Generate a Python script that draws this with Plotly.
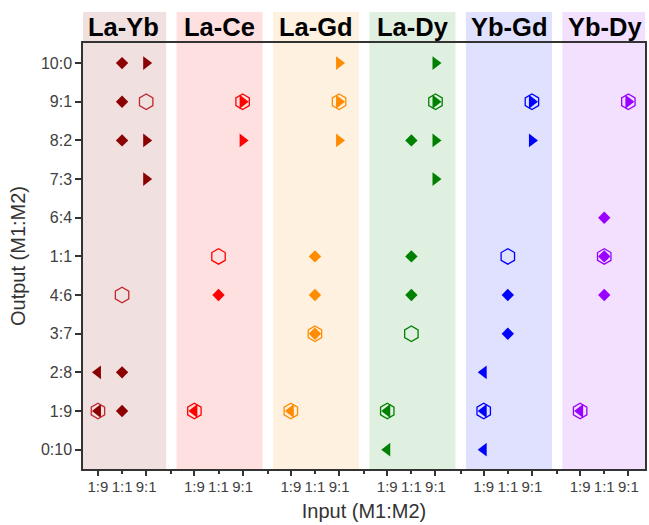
import plotly.graph_objects as go

# ---------------- data ----------------
panels = ["La-Yb", "La-Ce", "La-Gd", "La-Dy", "Yb-Gd", "Yb-Dy"]
colors = ["#8b0000", "#ff0000", "#ff8c00", "#008000", "#0000ff", "#9900ff"]
hex_colors = ["#c0282d", "#ff0000", "#ff8c00", "#008000", "#0000ff", "#9900ff"]
input_labels = ["1:9", "1:1", "9:1"]
output_labels = ["0:10", "1:9", "2:8", "3:7", "4:6", "1:1", "6:4", "7:3", "8:2", "9:1", "10:0"]

# observed outputs for each input ratio, per panel
outputs_in_1_9 = [["2:8", "1:9"], ["1:9"], ["1:9"], ["1:9", "0:10"], ["2:8", "1:9", "0:10"], ["1:9"]]
outputs_in_1_1 = [["10:0", "9:1", "8:2", "2:8", "1:9"], ["4:6"], ["1:1", "4:6", "3:7"],
                  ["8:2", "1:1", "4:6"], ["4:6", "3:7"], ["6:4", "1:1", "4:6"]]
outputs_in_9_1 = [["10:0", "8:2", "7:3"], ["9:1", "8:2"], ["10:0", "9:1", "8:2"],
                  ["10:0", "9:1", "8:2", "7:3"], ["9:1", "8:2"], ["9:1"]]
# highlighted (hexagon) output for inputs 1:9, 1:1, 9:1
hex_outputs = [["1:9", "4:6", "9:1"], ["1:9", "1:1", "9:1"], ["1:9", "3:7", "9:1"],
               ["1:9", "3:7", "9:1"], ["1:9", "1:1", "9:1"], ["1:9", "1:1", "9:1"]]

PERIOD = 4  # x units per panel
FONT = "Liberation Sans"


def xpos(p, inp):
    return p * PERIOD + input_labels.index(inp)


def ypos(out):
    return output_labels.index(out)


fig = go.Figure()

for p, name in enumerate(panels):
    c = colors[p]
    groups = [("1:9", outputs_in_1_9[p], "triangle-left", 12),
              ("1:1", outputs_in_1_1[p], "diamond", 9.5),
              ("9:1", outputs_in_9_1[p], "triangle-right", 12)]
    for inp, outs, sym, size in groups:
        if not outs:
            continue
        fig.add_trace(go.Scatter(
            x=[xpos(p, inp) for _ in outs], y=[ypos(o) for o in outs],
            mode="markers", showlegend=False, hoverinfo="skip",
            marker=dict(symbol=sym, size=size, color=c, line=dict(width=0)),
        ))
    fig.add_trace(go.Scatter(
        x=[xpos(p, inp) for inp in input_labels], y=[ypos(o) for o in hex_outputs[p]],
        mode="markers", showlegend=False, hoverinfo="skip",
        marker=dict(symbol="hexagon-open", size=15.5, color=hex_colors[p],
                    line=dict(width=1.3, color=hex_colors[p])),
    ))
    # panel background
    fig.add_shape(type="rect", xref="x", yref="paper",
                  x0=p * PERIOD - 0.74, x1=p * PERIOD + 2.83, y0=0, y1=1.073,
                  fillcolor=c, opacity=0.12, line=dict(width=0), layer="below")
    fig.add_annotation(x=p * PERIOD + 1.05, y=1.038, xref="x", yref="paper",
                       text="<b>" + name + "</b>", showarrow=False,
                       xanchor="center", yanchor="middle",
                       font=dict(family=FONT, size=25.5, color="#000000"))

# empty trace to activate the overlay axis carrying long ticks
fig.add_trace(go.Scatter(x=[], y=[], xaxis="x2", yaxis="y", showlegend=False, hoverinfo="skip"))

label_vals, label_text = [], []
for p in range(len(panels)):
    for j, lab in enumerate(input_labels):
        label_vals.append(p * PERIOD + j)
        label_text.append(lab)
gap_vals = [p * PERIOD + 3.05 for p in range(len(panels) - 1)]
long_vals = [p * PERIOD + j for p in range(len(panels)) for j in (0, 2)]

XR = [-0.62, 22.69]
axis_col = "#333333"

fig.update_layout(
    width=649, height=525,
    margin=dict(l=83, r=2, t=43, b=56),
    paper_bgcolor="white", plot_bgcolor="white",
    font=dict(family=FONT, color="#333333"),
    xaxis=dict(range=XR, tickmode="array", tickvals=label_vals + gap_vals,
               ticktext=label_text + [""] * len(gap_vals), tickangle=0,
               ticks="outside", ticklen=3, tickwidth=1.5, tickcolor=axis_col,
               showgrid=False, zeroline=False, showline=True, linecolor=axis_col,
               linewidth=1.5, mirror=True,
               tickfont=dict(family=FONT, size=15, color="#404040"),
               title=dict(text="Input (M1:M2)", standoff=10,
                          font=dict(family=FONT, size=20, color="#333333"))),
    xaxis2=dict(range=XR, overlaying="x", anchor="y", side="bottom",
                tickmode="array", tickvals=long_vals, showticklabels=False,
                ticks="outside", ticklen=6, tickwidth=1.5, tickcolor=axis_col,
                showgrid=False, zeroline=False, showline=False),
    yaxis=dict(range=[-0.5, 10.52], tickmode="array", tickvals=list(range(len(output_labels))),
               ticktext=output_labels, ticks="outside", ticklen=6, tickwidth=1.5,
               tickcolor=axis_col, showgrid=False, zeroline=False, showline=True,
               linecolor=axis_col, linewidth=1.5, mirror=True,
               tickfont=dict(family=FONT, size=16, color="#404040"),
               title=dict(text="Output (M1:M2)", standoff=10,
                          font=dict(family=FONT, size=20, color="#333333"))),
)

fig.write_html("out.html")
